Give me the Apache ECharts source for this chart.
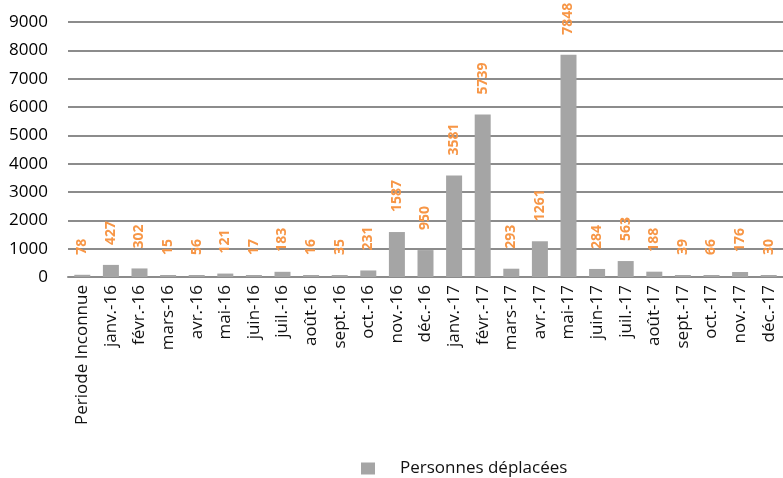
<!DOCTYPE html>
<html><head><meta charset="utf-8">
<script src="https://cdn.jsdelivr.net/npm/echarts@6/dist/echarts.min.js"></script>
<style>html,body{margin:0;padding:0;background:#fff}#c{width:783px;height:478px}</style>
</head><body><div id="c"></div>
<script>
const categories = ['Periode Inconnue','janv.-16','févr.-16','mars-16','avr.-16','mai-16','juin-16','juil.-16','août-16','sept.-16','oct.-16','nov.-16','déc.-16','janv.-17','févr.-17','mars-17','avr.-17','mai-17','juin-17','juil.-17','août-17','sept.-17','oct.-17','nov.-17','déc.-17'];
const values = [78,427,302,15,56,121,17,183,16,35,231,1587,950,3581,5739,293,1261,7848,284,563,188,39,66,176,30];
const yTicks = [0,1000,2000,3000,4000,5000,6000,7000,8000,9000];
const seriesName = 'Personnes déplacées';

const chart = echarts.init(document.getElementById('c'));
const font = '"Open Sans", sans-serif';
chart.setOption({
  animation: false,
  textStyle: {fontFamily: font},
  grid: {left: 68, right: -2, top: 22, bottom: 201, containLabel: false},
  legend: {
    data: [seriesName], left: 356, top: 455, itemWidth: 14, itemHeight: 12,
    icon: 'rect',
    textStyle: {fontSize: 17, color: '#111', fontFamily: font, padding: [0,0,0,20]}
  },
  xAxis: {
    type: 'category', data: categories,
    axisLine: {lineStyle: {color: '#8c8c8c', width: 2}},
    axisTick: {show: false},
    axisLabel: {rotate: 90, interval: 0, fontSize: 17, color: '#111', margin: 8, fontFamily: font}
  },
  yAxis: {
    type: 'value', min: yTicks[0], max: yTicks[yTicks.length-1], interval: 1000,
    axisLine: {show: false}, axisTick: {show: false},
    axisLabel: {fontSize: 17, color: '#000', margin: 20, fontFamily: font, formatter: v => String(v)},
    splitLine: {lineStyle: {color: '#8c8c8c', width: 2}}
  },
  series: [{
    name: seriesName, type: 'bar', data: values, barWidth: 16, barMinHeight: 2,
    itemStyle: {color: '#a5a5a5'},
    label: {show: true, position: 'top', rotate: 90, align: 'left', verticalAlign: 'middle', distance: 20,
      color: '#f79646', fontWeight: 'bold', fontSize: 14, fontFamily: font}
  }]
});
</script></body></html>
